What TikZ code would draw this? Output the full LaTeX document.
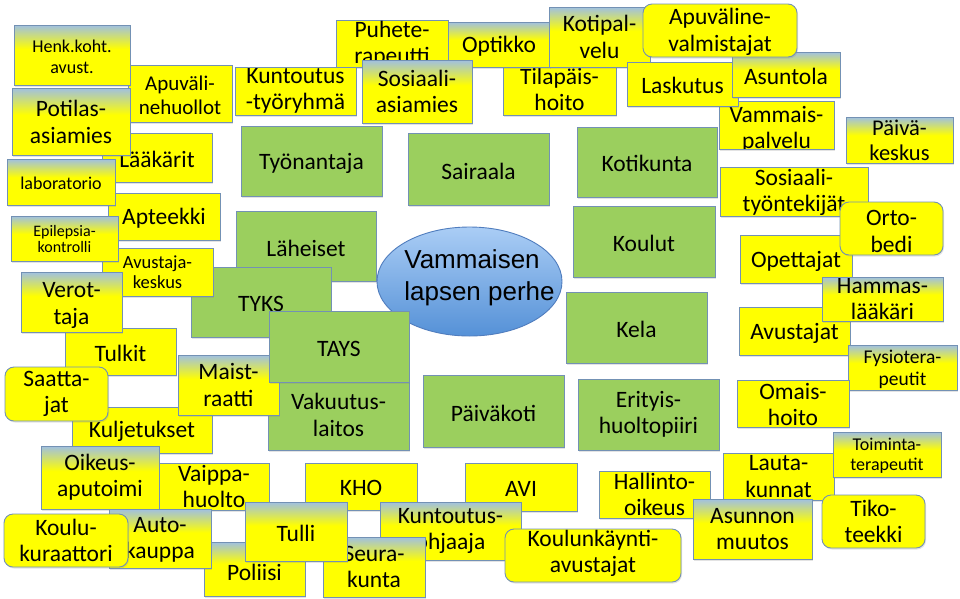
\documentclass[tikz,border=0pt]{standalone}
\usepackage{fontspec}
\setmainfont{Carlito}
\newfontfamily\arialf{Liberation Sans}
\usetikzlibrary{shapes.geometric,shadows}
\definecolor{gblue}{RGB}{160,192,225}
\definecolor{yel}{RGB}{255,255,0}
\definecolor{grn}{RGB}{155,207,94}
\definecolor{bord}{RGB}{115,145,180}
\definecolor{elltop}{RGB}{170,205,245}
\definecolor{ellbot}{RGB}{85,145,215}
\definecolor{ellbord}{RGB}{80,125,190}
\pgfdeclareverticalshading{ybtop}{100bp}{color(0bp)=(yel); color(25bp)=(yel); color(55bp)=(yel); color(75bp)=(gblue); color(100bp)=(gblue)}
\tikzset{
 base/.style={draw=bord, line width=0.9pt, inner sep=0pt, rectangle, drop shadow={opacity=0.22, shadow xshift=1pt, shadow yshift=-1.5pt}},
 ybox/.style={base, fill=yel},
 gbox/.style={base, shade, shading=ybtop},
 rbox/.style={base, fill=yel, rounded corners=9pt},
 grbox/.style={base, fill=grn},
}
\newcommand\FA{\fontsize{23.5}{26.3}\selectfont}
\newcommand\bx[9]{%
 \node[#2, minimum width={(#5-#3)*1pt}, minimum height={(#6-#4)*1pt},
  path picture={\node[font=#7, align=center, inner sep=0pt, text=black] (#1-t) at ([yshift={-(#8)*1pt}]path picture bounding box.center) {#9};}]
  (#1) at ({(#3+#5)/2},{(#4+#6)/2}) {};}
\begin{document}
\begin{tikzpicture}[x=1pt,y=-1pt]
\fill[white] (0,0) rectangle (960,598);
\useasboundingbox (0,0) rectangle (960,598);
% top row
\node[ybox, minimum width=112pt, minimum height=47pt] (puhe) at (392,43.5) {};
\begin{scope}
\clip (336,20) rectangle (448,62);
\node[font=\FA, align=center, inner sep=0pt] (puhe-t) at (392,44.5) {Puhete-\\rapeutti};
\end{scope}
\bx{tilap}{ybox}{503}{64}{616}{115}{\FA}{0}{Tilapäis-\\hoito}
\bx{optikko}{gbox}{448}{22}{550}{67}{\FA}{2}{Optikko}
\bx{kotipal}{gbox}{549}{7}{650}{67}{\FA}{0}{Kotipal-\\velu}
\bx{kuntr}{ybox}{235}{67}{356}{115}{\FA}{0}{Kuntoutus\\-työryhmä}
\bx{sosas}{gbox}{362}{60}{472}{123}{\FA}{0}{Sosiaali-\\asiamies}
\bx{vammp}{ybox}{719}{101}{834}{149}{\FA}{4}{Vammais-\\palvelu}
\bx{lasku}{ybox}{627}{62}{738}{106}{\FA}{1}{Laskutus}
\bx{asunt}{gbox}{732}{52}{840}{97}{\FA}{2}{Asuntola}
\bx{apuvv}{rbox}{643}{4}{797}{57}{\FA}{1.5}{Apuväline-\\valmistajat}
% right column
\bx{paivak}{gbox}{846}{117}{953}{163}{\fontsize{22.5}{25}\selectfont}{0}{Päivä-\\keskus}
\bx{sostt}{ybox}{720}{167}{868}{216}{\FA}{1}{Sosiaali-\\työntekijät}
\bx{opet}{ybox}{740}{235}{852}{283}{\FA}{2}{Opettajat}
\bx{orto}{rbox}{840}{202}{943}{255}{\FA}{3}{Orto-\\bedi}
\bx{avust}{ybox}{739}{307}{850}{355}{\FA}{2}{Avustajat}
\bx{hamm}{gbox}{822}{277}{943}{321}{\FA}{0}{Hammas-\\lääkäri}
\bx{fysio}{gbox}{848}{345}{957}{390}{\fontsize{19.5}{22}\selectfont}{2}{Fysiotera-\\peutit}
\bx{omais}{ybox}{737}{380}{849}{427}{\FA}{1}{Omais-\\hoito}
\bx{lauta}{ybox}{723}{453}{834}{500}{\FA}{0}{Lauta-\\kunnat}
\bx{toim}{gbox}{833}{432}{941}{477}{\fontsize{18}{20}\selectfont}{1}{Toiminta-\\terapeutit}
\bx{tiko}{rbox}{822}{495}{925}{548}{\FA}{0}{Tiko-\\teekki}
\bx{hall}{ybox}{599}{471}{710}{518}{\FA}{0}{Hallinto-\\oikeus}
\bx{asmuut}{gbox}{693}{499}{812}{559}{\FA}{0}{Asunnon\\muutos}
% green boxes
\bx{tyonan}{grbox}{241}{126}{382}{196}{\FA}{2}{Työnantaja}
\bx{sair}{grbox}{408}{133}{549}{205}{\FA}{2}{Sairaala}
\bx{kotik}{grbox}{577}{127}{717}{197}{\FA}{1}{Kotikunta}
\bx{koulut}{grbox}{573}{206}{715}{277}{\FA}{1.5}{Koulut}
\bx{kela}{grbox}{566}{292}{707}{363}{\FA}{2}{Kela}
\bx{paivako}{grbox}{423}{375}{564}{447}{\FA}{2}{Päiväkoti}
\bx{erit}{grbox}{578}{379}{719}{450}{\FA}{0}{Erityis-\\huoltopiiri}
\bx{laheis}{grbox}{236}{211}{376}{281}{\FA}{2}{Läheiset}
\node[ellipse, draw=ellbord, line width=0.9pt, top color=elltop, bottom color=ellbot, minimum width=185pt, minimum height=109pt, inner sep=0pt] (fam) at (469.5,281.5) {};
\node[font=\arialf\fontsize{26}{32}\selectfont, align=left, inner sep=0pt] (famt) at (479.5,277.5) {Vammaisen\\lapsen perhe};
\bx{tyks}{grbox}{191}{267}{331}{337}{\FA}{2}{TYKS}
\bx{vakuut}{grbox}{268}{380}{409}{450}{\FA}{0}{Vakuutus-\\laitos}
\bx{kulj}{ybox}{72}{407}{212}{453}{\FA}{1.5}{Kuljetukset}
\bx{maist}{gbox}{178}{355}{279}{415}{\FA}{0}{Maist-\\raatti}
\bx{tays}{grbox}{269}{311}{409}{382}{\FA}{2}{TAYS}
% left column
\bx{apuvh}{ybox}{128}{65}{232}{122}{\fontsize{21}{24}\selectfont}{2}{Apuväli-\\nehuollot}
\bx{henk}{gbox}{14}{25}{130}{85}{\fontsize{18}{20.5}\selectfont}{2}{Henk.koht.\\avust.}
\bx{laak}{ybox}{102}{133}{212}{182}{\FA}{2}{Lääkärit}
\bx{potil}{gbox}{12}{88}{130}{155}{\FA}{0.5}{Potilas-\\asiamies}
\bx{aptee}{ybox}{108}{193}{220}{240}{\FA}{1.5}{Apteekki}
\bx{labor}{gbox}{7}{159}{115}{205}{\fontsize{18}{20}\selectfont}{1}{laboratorio}
\bx{avkes}{ybox}{102}{248}{213}{296}{\fontsize{18.5}{20}\selectfont}{0.5}{Avustaja-\\keskus}
\bx{epil}{gbox}{11}{216}{118}{261}{\fontsize{16}{16.8}\selectfont}{0.5}{Epilepsia-\\kontrolli}
\bx{tulkit}{ybox}{65}{328}{176}{375}{\FA}{1.5}{Tulkit}
\bx{verot}{gbox}{21}{272}{122}{332}{\FA}{3.5}{Verot-\\taja}
\bx{saatt}{rbox}{5}{367}{108}{421}{\FA}{0}{Saatta-\\jat}
\bx{oikeus}{gbox}{41}{446}{159}{509}{\FA}{0}{Oikeus-\\aputoimi}
\bx{vaippa}{ybox}{159}{463}{269}{510}{\FA}{0}{Vaippa-\\huolto}
\bx{kho}{ybox}{305}{463}{417}{510}{\FA}{1.5}{KHO}
\bx{avi}{ybox}{465}{463}{577}{511}{\FA}{2}{AVI}
\bx{poliisi}{gbox}{204}{542}{305}{596}{\FA}{3}{Poliisi}
\bx{autok}{gbox}{109}{509}{211}{568}{\FA}{1}{Auto-\\kauppa}
\bx{koulk}{rbox}{4}{514}{128}{567}{\FA}{0}{Koulu-\\kuraattori}
\bx{kuntoh}{gbox}{380}{502}{521}{560}{\FA}{0}{Kuntoutus-\\ohjaaja}
\bx{koulav}{rbox}{505}{529}{681}{582}{\FA}{-2}{Koulunkäynti-\\avustajat}
\bx{seura}{gbox}{323}{537}{425}{597}{\FA}{0}{Seura-\\kunta}
\bx{tulli}{gbox}{245}{502}{347}{561}{\FA}{1.5}{Tulli}
\end{tikzpicture}
\end{document}
